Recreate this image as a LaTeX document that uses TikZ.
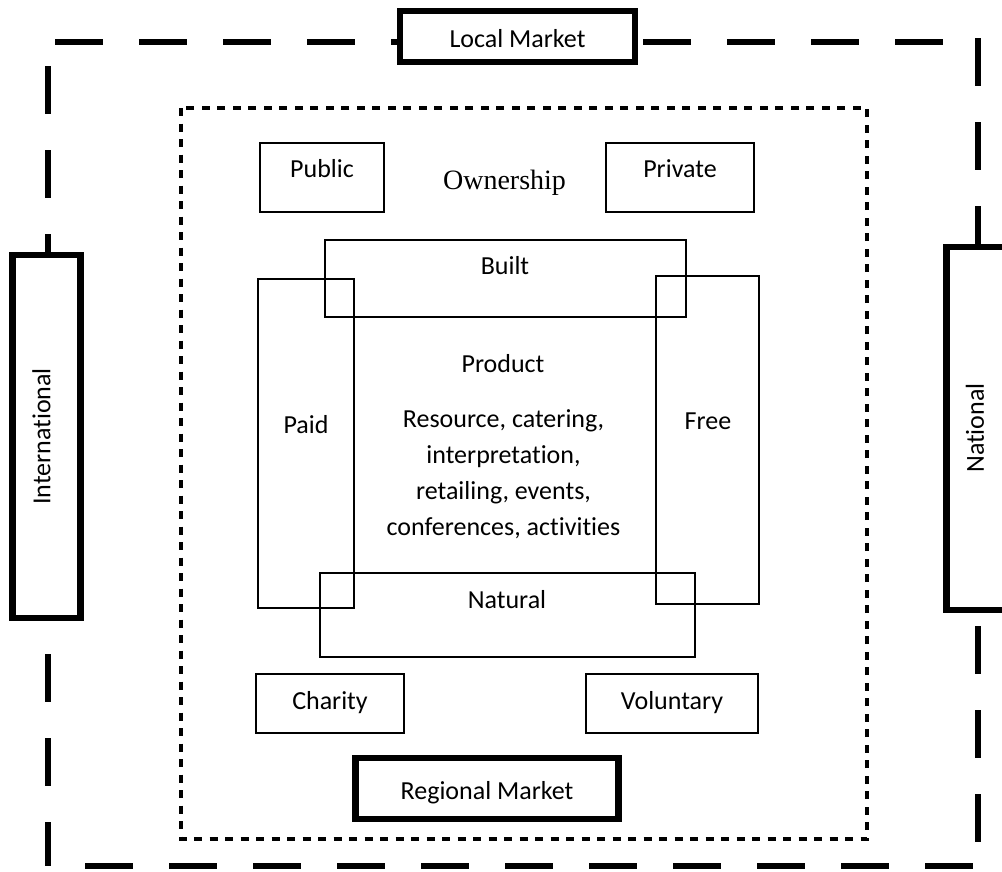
\documentclass[tikz,border=0pt]{standalone}
\usepackage{fontspec}
\setmainfont{Carlito}[Ligatures=NoCommon]
\newfontfamily\ownerfont{Liberation Serif}
\begin{document}
\begin{tikzpicture}[x=1pt,y=-1pt,
  every node/.style={font=\fontsize{26}{36}\selectfont, inner sep=0pt},
  thinbox/.style={draw, line width=1.5pt, inner sep=0pt},
  heavybox/.style={draw, fill=white, line width=6.5pt, inner sep=0pt},
  outerdash/.style={line width=6pt, dash pattern=on 48pt off 36pt},
  innerdot/.style={line width=4pt, dash pattern=on 8pt off 7.5pt},
  txt/.style={anchor=base}]
\clip (0,0) rectangle (1002,871);
\fill[white] (0,0) rectangle (1002,871);

% outer market boundary: long dashes, one side at a time
\coordinate (tl) at (55,42);   \coordinate (tr) at (943,42);
\coordinate (lt) at (48,66);   \coordinate (lb) at (48,866);
\coordinate (bl) at (85,866);  \coordinate (br) at (973,866);
\coordinate (rt) at (978,38);  \coordinate (rb) at (978,842);
\draw[outerdash] (tl) -- (tr);
\draw[outerdash] (lt) -- (lb);
\draw[outerdash] (bl) -- (br);
\draw[outerdash] (rt) -- (rb);

% market boxes sitting on the boundary
\node[heavybox, minimum width=235pt, minimum height=51pt] (local) at (517.5,36.5) {};
\node[txt] (localtxt) at (517.5,47) {Local Market};
\node[heavybox, minimum width=68pt, minimum height=363pt] (intl) at (46.5,436.5) {};
\node[rotate=90] (intltxt) at (41.5,436.5) {International};
\node[heavybox, minimum width=66pt, minimum height=363pt] (natl) at (979.5,428.5) {};
\node[rotate=90] (natltxt) at (975,428) {National};

% ownership frame: short dashes
\draw[innerdot] (181,108) rectangle (867,839);

% ownership types
\node[thinbox, minimum width=124pt, minimum height=69pt] (public) at (322,177.5) {};
\node[txt] (publictxt) at (322,177) {Public};
\node[thinbox, minimum width=148pt, minimum height=69pt] (private) at (680,177.5) {};
\node[txt] (privatetxt) at (680,177) {Private};
\node[txt, font=\ownerfont\fontsize{28}{33}\selectfont] (owner) at (504.5,189) {Ownership};
\node[thinbox, minimum width=148pt, minimum height=59pt] (charity) at (330,703.5) {};
\node[txt] (charitytxt) at (330,709) {Charity};
\node[thinbox, minimum width=172pt, minimum height=59pt] (volunt) at (672,703.5) {};
\node[txt] (volunttxt) at (672,709) {Voluntary};

% product frame: overlapping bands
\node[thinbox, minimum width=361pt, minimum height=77pt] (built) at (505.5,278.5) {};
\node[txt] (builttxt) at (505,274) {Built};
\node[thinbox, minimum width=96pt, minimum height=329pt] (paid) at (306,443.5) {};
\node[txt] (paidtxt) at (306,433) {Paid};
\node[thinbox, minimum width=103pt, minimum height=328pt] (free) at (707.5,440) {};
\node[txt] (freetxt) at (708,429) {Free};
\node[thinbox, minimum width=375pt, minimum height=84pt] (natural) at (507.5,615) {};
\node[txt] (naturaltxt) at (507,608) {Natural};
\node[txt] (product) at (503,372) {Product};
% base anchor of a multi-line node sits on its last line
\node[txt, align=center] (items) at (503.5,535)
  {Resource, catering,\\ interpretation,\\ retailing, events,\\ conferences, activities};

% regional market
\node[heavybox, minimum width=263pt, minimum height=61pt] (regional) at (487,788.5) {};
\node[txt] (regionaltxt) at (487,799) {Regional Market};
\end{tikzpicture}
\end{document}
